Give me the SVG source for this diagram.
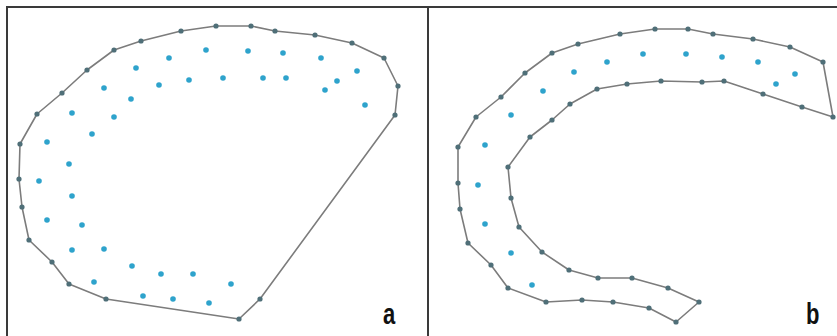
<svg xmlns="http://www.w3.org/2000/svg" width="837" height="336" viewBox="0 0 837 336">
<style>
.frame{stroke:#3a3a3a;stroke-width:2;fill:none}
.hull{fill:none;stroke:#7c7c7c;stroke-width:1.6;stroke-linejoin:round}
.v{fill:#4f6f78}
.p{fill:#2ea3cc}
.lbl{font-family:"Liberation Sans",Arial,sans-serif;font-weight:bold;font-size:22px;fill:#111}
</style>
<rect width="837" height="336" fill="#fff"/>
<g id="frame">
<path class="frame" d="M7,336 V7 H837 M428,7 V336"/>
</g>
<g id="connectors">
<polygon id="hull-a" class="hull" points="20,144 37,114 62,93 87,70 114,50 141,41 181,31 216,26 251,26 275,31 315,35 352,43 384,58 398,86 395,115 260,299 239,319 106,299 69,284 52,262 29,240 22,207 19,179"/>
<polygon id="hull-b" class="hull" points="458,147 476,117 501,97 525,73 552,53 578,44 620,34 655,29 688,29 713,34 753,39 790,47 823,62 833,117 802,107 763,94 724,81 702,82 661,81 627,84 597,89 570,104 552,120 530,137 508,167 511,198 519,227 542,252 569,270 598,278 632,278 668,288 699,302 676,322 649,308 613,302 582,300 546,302 508,288 491,265 468,243 460,209 458,183"/>
</g>
<g id="panel-a">
<g id="a-vertices" class="v">
<circle cx="20" cy="144" r="2.6"/><circle cx="37" cy="114" r="2.6"/><circle cx="62" cy="93" r="2.6"/><circle cx="87" cy="70" r="2.6"/><circle cx="114" cy="50" r="2.6"/><circle cx="141" cy="41" r="2.6"/><circle cx="181" cy="31" r="2.6"/><circle cx="216" cy="26" r="2.6"/><circle cx="251" cy="26" r="2.6"/><circle cx="275" cy="31" r="2.6"/><circle cx="315" cy="35" r="2.6"/><circle cx="352" cy="43" r="2.6"/><circle cx="384" cy="58" r="2.6"/><circle cx="398" cy="86" r="2.6"/><circle cx="395" cy="115" r="2.6"/><circle cx="260" cy="299" r="2.6"/><circle cx="239" cy="319" r="2.6"/><circle cx="106" cy="299" r="2.6"/><circle cx="69" cy="284" r="2.6"/><circle cx="52" cy="262" r="2.6"/><circle cx="29" cy="240" r="2.6"/><circle cx="22" cy="207" r="2.6"/><circle cx="19" cy="179" r="2.6"/>
</g>
<g id="a-points" class="p">
<circle cx="169" cy="58" r="2.8"/><circle cx="206" cy="50" r="2.8"/><circle cx="136" cy="68" r="2.8"/><circle cx="159" cy="85" r="2.8"/><circle cx="189" cy="80" r="2.8"/><circle cx="104" cy="88" r="2.8"/><circle cx="131" cy="99" r="2.8"/><circle cx="72" cy="113" r="2.8"/><circle cx="114" cy="117" r="2.8"/><circle cx="47" cy="142" r="2.8"/><circle cx="92" cy="134" r="2.8"/><circle cx="69" cy="164" r="2.8"/>
<circle cx="248" cy="51" r="2.8"/><circle cx="283" cy="53" r="2.8"/><circle cx="321" cy="58" r="2.8"/><circle cx="357" cy="71" r="2.8"/><circle cx="223" cy="78" r="2.8"/><circle cx="263" cy="78" r="2.8"/><circle cx="286" cy="78" r="2.8"/><circle cx="337" cy="81" r="2.8"/><circle cx="325" cy="90" r="2.8"/><circle cx="365" cy="105" r="2.8"/>
<circle cx="39" cy="181" r="2.8"/><circle cx="72" cy="196" r="2.8"/><circle cx="47" cy="220" r="2.8"/><circle cx="82" cy="225" r="2.8"/><circle cx="72" cy="250" r="2.8"/><circle cx="104" cy="249" r="2.8"/><circle cx="132" cy="266" r="2.8"/><circle cx="94" cy="282" r="2.8"/><circle cx="161" cy="274" r="2.8"/><circle cx="193" cy="274" r="2.8"/><circle cx="143" cy="296" r="2.8"/><circle cx="173" cy="299" r="2.8"/><circle cx="209" cy="303" r="2.8"/><circle cx="231" cy="284" r="2.8"/>
</g>
<text class="lbl" transform="translate(383,324) scale(1,1.36)">a</text>
</g>
<g id="panel-b">
<g id="b-vertices" class="v">
<circle cx="458" cy="147" r="2.6"/><circle cx="476" cy="117" r="2.6"/><circle cx="501" cy="97" r="2.6"/><circle cx="525" cy="73" r="2.6"/><circle cx="552" cy="53" r="2.6"/><circle cx="578" cy="44" r="2.6"/><circle cx="620" cy="34" r="2.6"/><circle cx="655" cy="29" r="2.6"/><circle cx="688" cy="29" r="2.6"/><circle cx="713" cy="34" r="2.6"/><circle cx="753" cy="39" r="2.6"/><circle cx="790" cy="47" r="2.6"/><circle cx="823" cy="62" r="2.6"/><circle cx="833" cy="117" r="2.6"/><circle cx="802" cy="107" r="2.6"/><circle cx="763" cy="94" r="2.6"/><circle cx="724" cy="81" r="2.6"/><circle cx="702" cy="82" r="2.6"/><circle cx="661" cy="81" r="2.6"/><circle cx="627" cy="84" r="2.6"/><circle cx="597" cy="89" r="2.6"/><circle cx="570" cy="104" r="2.6"/><circle cx="552" cy="120" r="2.6"/><circle cx="530" cy="137" r="2.6"/><circle cx="508" cy="167" r="2.6"/><circle cx="511" cy="198" r="2.6"/><circle cx="519" cy="227" r="2.6"/><circle cx="542" cy="252" r="2.6"/><circle cx="569" cy="270" r="2.6"/><circle cx="598" cy="278" r="2.6"/><circle cx="632" cy="278" r="2.6"/><circle cx="668" cy="288" r="2.6"/><circle cx="699" cy="302" r="2.6"/><circle cx="676" cy="322" r="2.6"/><circle cx="649" cy="308" r="2.6"/><circle cx="613" cy="302" r="2.6"/><circle cx="582" cy="300" r="2.6"/><circle cx="546" cy="302" r="2.6"/><circle cx="508" cy="288" r="2.6"/><circle cx="491" cy="265" r="2.6"/><circle cx="468" cy="243" r="2.6"/><circle cx="460" cy="209" r="2.6"/><circle cx="458" cy="183" r="2.6"/>
</g>
<g id="b-points" class="p">
<circle cx="607" cy="62" r="2.8"/><circle cx="574" cy="72" r="2.8"/><circle cx="543" cy="91" r="2.8"/><circle cx="511" cy="115" r="2.8"/><circle cx="485" cy="145" r="2.8"/>
<circle cx="643" cy="54" r="2.8"/><circle cx="686" cy="54" r="2.8"/><circle cx="722" cy="57" r="2.8"/><circle cx="758" cy="62" r="2.8"/><circle cx="795" cy="74" r="2.8"/><circle cx="776" cy="84" r="2.8"/>
<circle cx="478" cy="185" r="2.8"/><circle cx="485" cy="224" r="2.8"/><circle cx="511" cy="253" r="2.8"/><circle cx="532" cy="285" r="2.8"/>
</g>
<text class="lbl" transform="translate(806,324) scale(1,1.36)">b</text>
</g>
</svg>
